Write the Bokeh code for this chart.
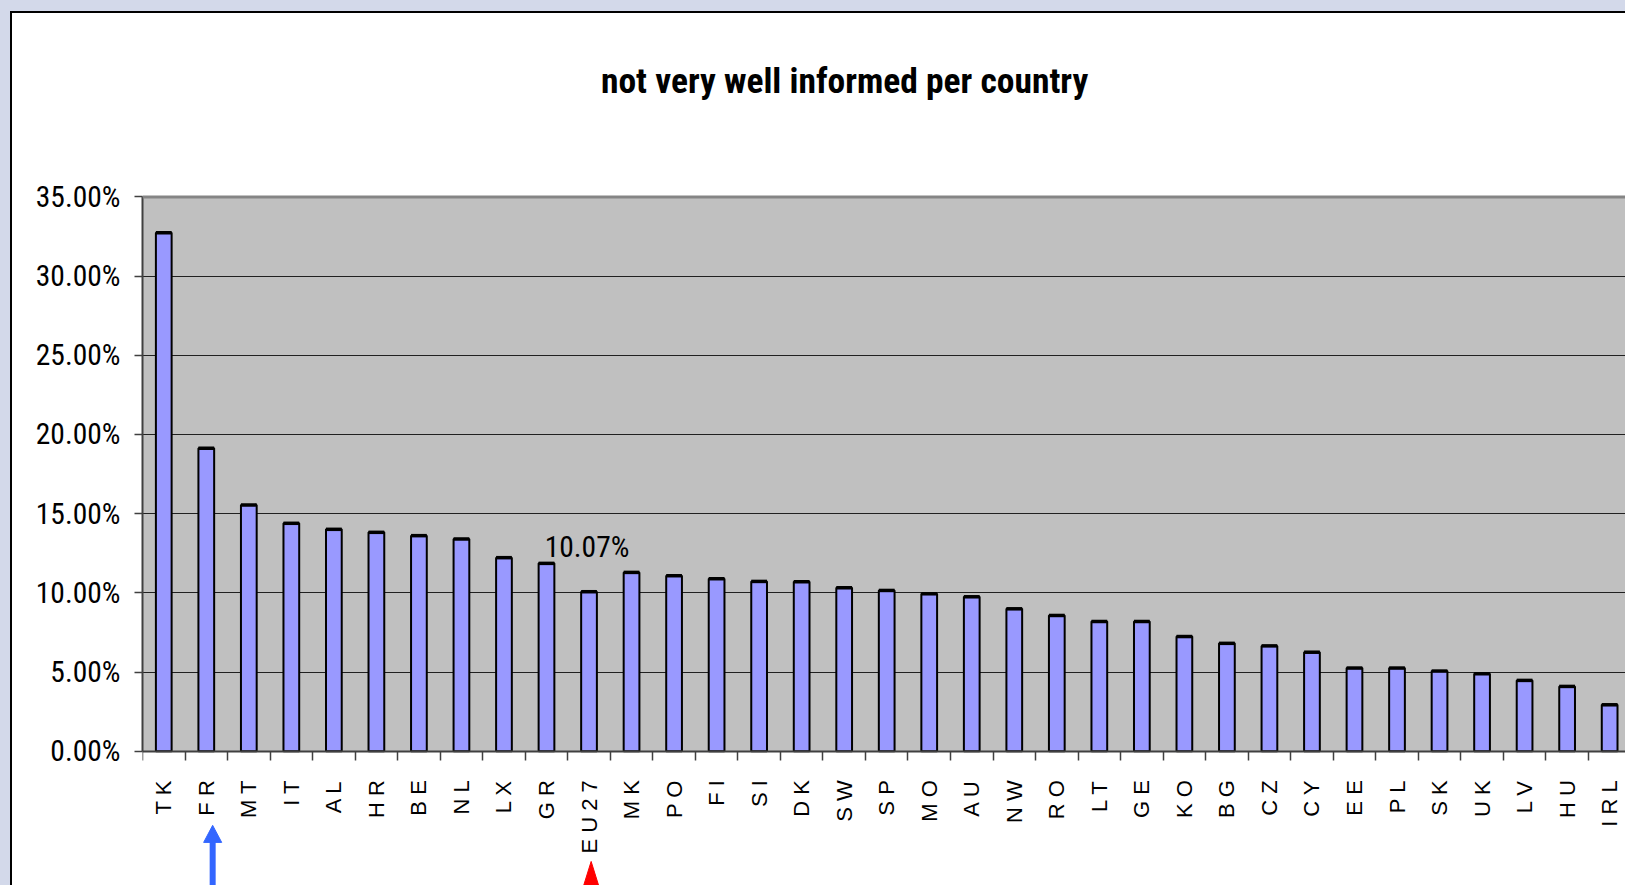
import math
import numpy as np
from bokeh.plotting import figure
from bokeh.models import (Range1d, FixedTicker, NumeralTickFormatter, Label, Span,
                          BoxAnnotation, ColumnDataSource)
from bokeh.embed import file_html
from bokeh.resources import INLINE

# ---------------- data ----------------
countries = ["TK", "FR", "MT", "IT", "AL", "HR", "BE", "NL", "LX", "GR", "EU27", "MK",
             "PO", "FI", "SI", "DK", "SW", "SP", "MO", "AU", "NW", "RO", "LT", "GE",
             "KO", "BG", "CZ", "CY", "EE", "PL", "SK", "UK", "LV", "HU", "IRL"]
values = [0.3274, 0.1913, 0.1555, 0.1439, 0.1401, 0.1382, 0.1361, 0.1340, 0.1222, 0.1186,
          0.1007, 0.1129, 0.1108, 0.1089, 0.1072, 0.1070, 0.1032, 0.1015, 0.0994, 0.0975,
          0.0899, 0.0857, 0.0819, 0.0819, 0.0724, 0.0681, 0.0665, 0.0625, 0.0525, 0.0525,
          0.0506, 0.0489, 0.0447, 0.0409, 0.0293]
y_ticks = [0.0, 0.05, 0.10, 0.15, 0.20, 0.25, 0.30, 0.35]
title_text = "not very well informed per country"
highlight_label = "10.07%"
highlight_country = "EU27"
arrow_country = "FR"

# ---------------- styles ----------------
NARROW = "Liberation Sans Narrow, Roboto Condensed, DejaVu Sans Condensed, Liberation Sans"
BAR_W = 0.37
Y_TOP = 0.35
PX_PER_UNIT = 1580.0          # vertical scale of the plot area
Y_MIN = -(885 - 749) / PX_PER_UNIT
Y_MAX = Y_TOP + (196 - 13) / PX_PER_UNIT

idx = np.arange(len(countries))
src = ColumnDataSource(dict(x=idx, top=values,
                            x0=idx - BAR_W / 2, x1=idx + BAR_W / 2))

p = figure(width=1615, height=874, output_backend="svg", toolbar_location=None,
           x_range=Range1d(-0.5, 34.42), y_range=Range1d(Y_MIN, Y_MAX),
           min_border_left=130, min_border_top=0, min_border_bottom=0,
           min_border_right=0)
p.styles = {"margin-left": "10px", "margin-top": "11px",
            "border-left": "2px solid #000000", "border-top": "2px solid #000000",
            "outline": "11px solid #D3D9EA"}
p.background_fill_color = "#FFFFFF"
p.border_fill_color = "#FFFFFF"
p.outline_line_color = None

# grey plot area
p.add_layout(BoxAnnotation(bottom=0, top=Y_TOP, fill_color="#C0C0C0", fill_alpha=1.0,
                           line_color=None, level="image"))

# bars
p.vbar(x="x", top="top", width=BAR_W, source=src, fill_color="#9999FF",
       line_color="#000000", line_width=2)
p.segment(x0="x0", x1="x1", y0="top", y1="top", source=src,
          line_color="#000000", line_width=3.5)

# x axis (fixed at zero)
xa = p.xaxis[0]
xa.fixed_location = 0
xa.ticker = FixedTicker(ticks=list(idx), minor_ticks=[i - 0.5 for i in range(len(countries) + 1)])
xa.major_label_overrides = {int(i): " ".join(c) for i, c in enumerate(countries)}
xa.major_label_orientation = math.pi / 2
xa.major_tick_out = 0
xa.major_tick_in = 0
xa.minor_tick_out = 9
xa.minor_tick_in = 0
xa.minor_tick_line_color = "#404040"
xa.minor_tick_line_width = 1.5
xa.axis_line_color = "#404040"
xa.axis_line_width = 2
xa.major_label_standoff = 20
xa.major_label_text_font = "Liberation Sans"
xa.major_label_text_font_size = "22px"
xa.major_label_text_color = "#000000"

# y axis
ya = p.yaxis[0]
ya.bounds = (0, Y_TOP)
ya.ticker = FixedTicker(ticks=y_ticks)
ya.formatter = NumeralTickFormatter(format="0.00%")
ya.major_tick_out = 8
ya.major_tick_in = 0
ya.minor_tick_out = 0
ya.minor_tick_in = 0
ya.major_tick_line_color = "#404040"
ya.major_tick_line_width = 1.5
ya.axis_line_color = "#404040"
ya.axis_line_width = 2
ya.major_label_standoff = 14
ya.major_label_text_font = NARROW
ya.major_label_text_font_size = "29.5px"
ya.major_label_text_color = "#000000"

p.xgrid.grid_line_color = None
p.ygrid.grid_line_color = "#202020"
p.ygrid.grid_line_width = 1.2

# top border of plot area
p.add_layout(Span(location=Y_TOP, dimension="width", line_color="#858585", line_width=3))

# title
p.add_layout(Label(x=16.01, y=Y_TOP + (196 - 80) / PX_PER_UNIT, text=title_text,
                   text_align="center", text_baseline="alphabetic", text_font=NARROW,
                   text_font_style="bold", text_font_size="35.5px", text_color="#000000"))

# highlighted value label
hi = countries.index(highlight_country)
p.add_layout(Label(x=hi, y=values[hi], text=highlight_label, text_align="center",
                   text_baseline="alphabetic", y_offset=45, x_offset=-2,
                   text_font=NARROW, text_font_size="29.5px", text_color="#000000"))

# blue arrow under FR
ai = countries.index(arrow_country) + 0.15
tip = -(823 - 749) / PX_PER_UNIT
base = -(840 - 749) / PX_PER_UNIT
half = 9 / 42.4
p.segment(x0=[ai], x1=[ai], y0=[base + 0.001], y1=[Y_MIN - 0.01], line_color="#3366FF",
          line_width=6)
p.patch(x=[ai - half, ai, ai + half], y=[base, tip, base], fill_color="#3366FF",
        line_color="#3366FF", line_width=1)

# red triangle under EU27
tx = hi + 0.05
ttip = -(859 - 749) / PX_PER_UNIT
thalf = 13 / 42.4
p.patch(x=[tx - thalf, tx, tx + thalf], y=[Y_MIN - 0.01, ttip, Y_MIN - 0.01],
        fill_color="#FF0000", line_color="#FF0000", line_width=1)

open("out.html", "w").write(file_html(p, INLINE))
